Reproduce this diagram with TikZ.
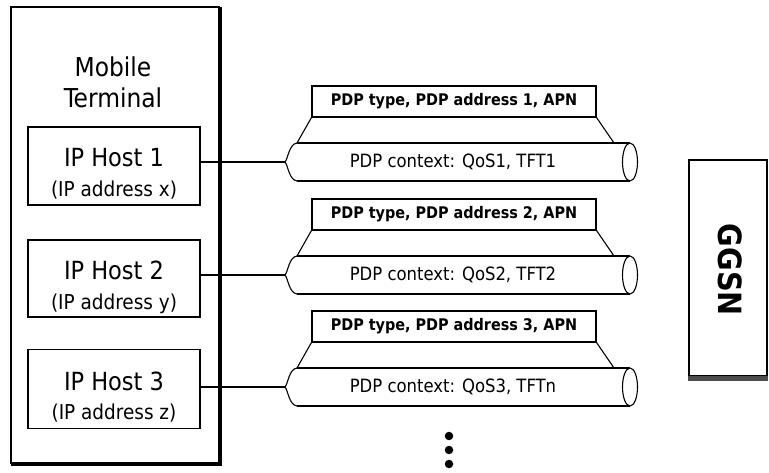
\documentclass[tikz,border=0pt]{standalone}
\usepackage{fontspec}
\setmainfont{DejaVu Sans Condensed}
\begin{document}
\begin{tikzpicture}[x=1pt,y=-1pt,line width=1.1pt,
  box/.style={draw,line width=1.1pt,inner sep=0pt},
  titletext/.style={anchor=base,inner sep=0pt,font=\fontsize{26}{30}\selectfont},
  hostname/.style={anchor=base,inner sep=0pt,font=\fontsize{25}{28}\selectfont},
  hostaddr/.style={anchor=base,inner sep=0pt,font=\fontsize{20.5}{23}\selectfont},
  hdr/.style={box,minimum width=284,minimum height=31,font=\bfseries\fontsize{16}{18}\selectfont},
  tubetext/.style={inner sep=0pt,font=\fontsize{18.3}{21}\selectfont},
  dotmark/.style={circle,fill,inner sep=0pt,minimum size=8.5}]
\useasboundingbox (0,0) rectangle (769,473);

% Mobile terminal frame with its heavy right and bottom edges
\node[box,minimum width=208,minimum height=456] (mt) at (115,235) {};
\draw[line width=3.2pt] ([xshift=0.6pt,yshift=-1pt]mt.north east) -- ([xshift=0.6pt,yshift=-0.6pt]mt.south east) -- ([xshift=1pt,yshift=-0.6pt]mt.south west);
\node[titletext] (mobile) at (113,77) {Mobile};
\node[titletext] (terminal) at (113,108) {Terminal};

% IP hosts
\node[box,minimum width=172,minimum height=78] (h1) at (114,166) {};
\node[hostname] (h1n) at (114,167) {IP Host 1};
\node[hostaddr] (h1a) at (114,197) {(IP address x)};
\node[box,minimum width=172,minimum height=77] (h2) at (114,278.5) {};
\node[hostname] (h2n) at (114,280) {IP Host 2};
\node[hostaddr] (h2a) at (114,309) {(IP address y)};
\node[box,minimum width=172,minimum height=79] (h3) at (114,389) {};
\node[hostname] (h3n) at (114,390) {IP Host 3};
\node[hostaddr] (h3a) at (114,419) {(IP address z)};

% PDP contexts: header box, flared neck and tube
\foreach \i/\c/\q/\t in {1/162/QoS1/TFT1, 2/275/QoS2/TFT2, 3/387/QoS3/TFTn}{
  \node[hdr] (hd\i) at (454,\c-60.5) {PDP type, PDP address \i, APN};
  \coordinate (tl\i) at (297,\c-19);
  \coordinate (bl\i) at (297,\c+19);
  \coordinate (tr\i) at (630,\c-19);
  \coordinate (br\i) at (630,\c+19);
  \coordinate (tip\i) at (285,\c);
  \draw (hd\i.south west) -- (tl\i);
  \draw (hd\i.south east) -- (614,\c-19);
  \draw (tl\i) -- (tr\i);
  \draw (bl\i) -- (br\i);
  \draw (tr\i) arc[start angle=-90,end angle=270,x radius=7.5,y radius=19];
  \draw (tl\i) .. controls (289,\c-18) and (288,\c-3) .. (tip\i)
               .. controls (288,\c+3) and (289,\c+18) .. (bl\i);
  \node[tubetext] (tt\i) at (453,\c) {PDP context: \q, \t};
}

% host to context links
\draw (h1.east |- tip1) -- (tip1);
\draw (h2.east |- tip2) -- (tip2);
\draw (h3.east |- tip3) -- (tip3);

% more contexts
\node[dotmark] (d1) at (449,436) {};
\node[dotmark] (d2) at (449,450) {};
\node[dotmark] (d3) at (449,464) {};

% GGSN
\node[box,minimum width=78,minimum height=216] (ggsn) at (728,268) {};
\fill[black!70] ([yshift=0.5pt]ggsn.south west) rectangle ([yshift=-4.5pt]ggsn.south east);
\node[rotate=-90,inner sep=0pt,font=\bfseries\fontsize{32}{36}\selectfont] (ggsnlabel) at (730,270) {GGSN};
\end{tikzpicture}
\end{document}
